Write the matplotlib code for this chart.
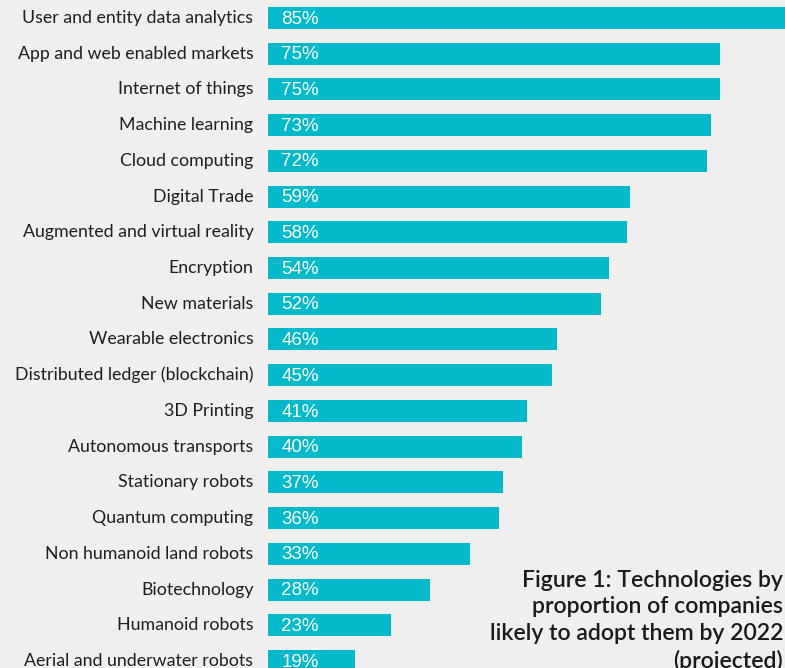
import matplotlib
matplotlib.use("Agg")
import matplotlib.pyplot as plt
from matplotlib.transforms import ScaledTranslation

categories = [
    "User and entity data analytics", "App and web enabled markets", "Internet of things",
    "Machine learning", "Cloud computing", "Digital Trade", "Augmented and virtual reality",
    "Encryption", "New materials", "Wearable electronics", "Distributed ledger (blockchain)",
    "3D Printing", "Autonomous transports", "Stationary robots", "Quantum computing",
    "Non humanoid land robots", "Biotechnology", "Humanoid robots", "Aerial and underwater robots",
]
values = [85, 75, 75, 73, 72, 59, 58, 54, 52, 46, 45, 41, 40, 37, 36, 33, 28, 23, 19]
# drawn bar lengths as they appear in the reference graphic
bar_lengths = [86.5, 75, 75, 73.5, 72.8, 60.1, 59.6, 56.6, 55.3, 48.0, 47.1, 43.0, 42.1,
               39.0, 38.3, 33.5, 26.9, 20.4, 14.4]
title = "Figure 1: Technologies by\nproportion of companies\nlikely to adopt them by 2022\n(projected)"

BG = "#efefef"
BAR = "#04b9c9"
W, H = 785, 668

fig = plt.figure(figsize=(W / 100, H / 100), dpi=100, facecolor=BG)
ax = fig.add_axes([268 / W, 0, 1 - 268 / W, 1])
ax.set_facecolor(BG)

pos = list(range(len(categories)))
ax.barh(pos, bar_lengths, height=0.616, color=BAR, linewidth=0)

ax.set_xlim(0, 517 / 6.0267)
ax.set_ylim(18.197, -0.504)

ax.set_yticks(pos)
ax.set_yticklabels(categories, family=["Lato", "DejaVu Sans"], fontsize=12.8, color="#1e1e1e")
ax.tick_params(axis="y", length=0, pad=10.5)
shift = ScaledTranslation(0, 1.5 / 100, fig.dpi_scale_trans)
for lab in ax.get_yticklabels():
    lab.set_transform(lab.get_transform() + shift)
ax.set_xticks([])
for s in ax.spines.values():
    s.set_visible(False)

for i, v in enumerate(values):
    ax.annotate(f"{v}%", xy=(0, i), xytext=(9.5, -0.8), textcoords="offset points",
                ha="left", va="center", color="white", fontsize=13.5,
                family=["Liberation Sans", "DejaVu Sans"])

fig.text(783 / W, 1 - 570 / H, title, ha="right", va="top", fontsize=16.6,
         family=["Lato", "DejaVu Sans"], weight="semibold", color="#1a1a1a", linespacing=1.32)

fig.savefig("out.png", dpi=100, facecolor=BG)
